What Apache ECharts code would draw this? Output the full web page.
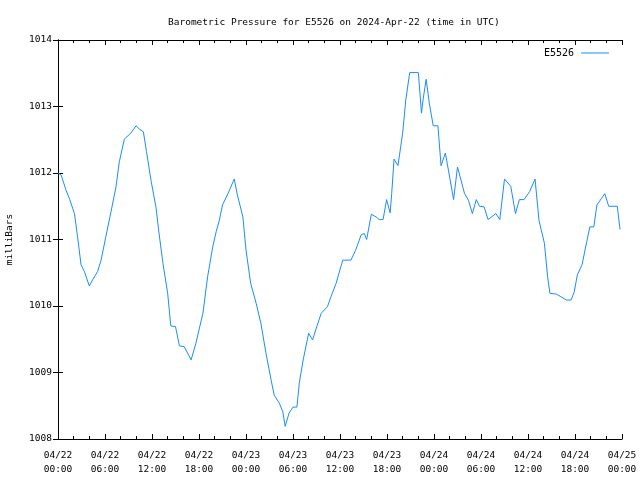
<!DOCTYPE html>
<html>
<head>
<meta charset="utf-8">
<script src="https://cdn.jsdelivr.net/npm/echarts@6/dist/echarts.min.js"></script>
<style>html,body{margin:0;padding:0;background:#fff}#c{width:640px;height:480px}</style>
</head>
<body>
<div id="c"></div>
<script>
// hours since 2024-04-22 00:00 UTC
var hours = [0, 0.4, 1.0, 1.5, 1.87, 2.1, 2.5, 2.94, 3.36, 4.0, 4.4, 5.06, 5.5, 6.1, 6.77, 7.4, 7.83, 8.47, 9.3, 9.96, 10.4, 10.9, 11.3, 11.9, 12.5, 12.9, 13.4, 14.0, 14.4, 15.0, 15.5, 16.1, 17.0, 17.6, 18.5, 19.1, 19.75, 20.2, 20.6, 21.0, 21.7, 22.5, 22.9, 23.6, 24.0, 24.6, 25.3, 25.9, 26.55, 27.2, 27.6, 28.25, 28.7, 29.0, 29.5, 30.0, 30.5, 30.8, 31.3, 32.0, 32.5, 32.9, 33.6, 34.4, 34.85, 35.5, 36.35, 37.4, 38.0, 38.7, 39.1, 39.4, 40.0, 40.6, 41.0, 41.5, 41.95, 42.4, 42.6, 42.9, 43.4, 44.0, 44.4, 44.9, 46.0, 46.4, 46.6, 47.0, 47.4, 47.9, 48.5, 48.9, 49.45, 49.95, 50.5, 51.0, 51.9, 52.4, 52.9, 53.4, 53.8, 54.4, 54.9, 55.9, 56.4, 57.0, 57.8, 58.4, 58.9, 59.5, 60.2, 60.9, 61.4, 62.1, 62.5, 62.8, 63.6, 64.2, 64.9, 65.5, 65.9, 66.3, 66.9, 67.5, 67.9, 68.4, 68.8, 69.4, 69.8, 70.3, 71.4, 71.75];
var pressure = [1012.0, 1011.97, 1011.75, 1011.6, 1011.47, 1011.39, 1011.04, 1010.62, 1010.52, 1010.30, 1010.39, 1010.52, 1010.69, 1011.04, 1011.42, 1011.79, 1012.17, 1012.51, 1012.60, 1012.71, 1012.66, 1012.62, 1012.32, 1011.87, 1011.49, 1011.09, 1010.64, 1010.19, 1009.70, 1009.69, 1009.40, 1009.39, 1009.19, 1009.44, 1009.89, 1010.44, 1010.89, 1011.12, 1011.29, 1011.52, 1011.69, 1011.91, 1011.67, 1011.34, 1010.84, 1010.34, 1010.04, 1009.74, 1009.29, 1008.89, 1008.66, 1008.54, 1008.41, 1008.19, 1008.39, 1008.48, 1008.48, 1008.84, 1009.19, 1009.59, 1009.49, 1009.64, 1009.89, 1009.99, 1010.14, 1010.34, 1010.69, 1010.69, 1010.84, 1011.07, 1011.09, 1011.0, 1011.38, 1011.34, 1011.30, 1011.30, 1011.60, 1011.40, 1011.69, 1012.21, 1012.11, 1012.60, 1013.10, 1013.51, 1013.51, 1012.90, 1013.10, 1013.41, 1013.05, 1012.71, 1012.71, 1012.11, 1012.30, 1011.97, 1011.60, 1012.09, 1011.69, 1011.59, 1011.39, 1011.60, 1011.50, 1011.49, 1011.30, 1011.39, 1011.30, 1011.91, 1011.80, 1011.39, 1011.60, 1011.60, 1011.72, 1011.91, 1011.29, 1010.94, 1010.44, 1010.19, 1010.18, 1010.14, 1010.09, 1010.09, 1010.21, 1010.47, 1010.62, 1010.97, 1011.19, 1011.19, 1011.52, 1011.62, 1011.69, 1011.50, 1011.50, 1011.15];
var dayLabels = ['04/22', '04/22', '04/22', '04/22', '04/23', '04/23', '04/23', '04/23', '04/24', '04/24', '04/24', '04/24', '04/25'];
var timeLabels = ['00:00', '06:00', '12:00', '18:00', '00:00', '06:00', '12:00', '18:00', '00:00', '06:00', '12:00', '18:00', '00:00'];
var yTicks = [1008, 1009, 1010, 1011, 1012, 1013, 1014];
var seriesName = 'E5526';
var titleText = 'Barometric Pressure for E5526 on 2024-Apr-22 (time in UTC)';
var yName = 'milliBars';

var FONT = 'DejaVu Sans Mono';
var pts = hours.map(function (h, i) { return [h, pressure[i]]; });
var chart = echarts.init(document.getElementById('c'), null, {renderer: 'canvas'});
var axisLine = {show: true, lineStyle: {color: '#000', width: 1}};
chart.setOption({
  animation: false,
  backgroundColor: '#fff',
  title: {
    text: titleText, left: 163, top: 13,
    textStyle: {fontFamily: FONT, fontSize: 9.5, fontWeight: 'normal', color: '#000'}
  },
  legend: {
    data: [seriesName], right: 26, top: 43, align: 'right', itemWidth: 28, itemHeight: 1,
    icon: 'path://M0,0L28,0L28,1L0,1Z',
    textStyle: {fontFamily: FONT, fontSize: 10, color: '#000', padding: [0, 2, 0, 0]}
  },
  grid: {left: 58, right: 18, top: 40, bottom: 41, containLabel: false, outerBoundsMode: 'none'},
  xAxis: [{
    type: 'value', min: 0, max: 72, interval: 6,
    axisLine: axisLine,
    axisTick: {show: true, inside: true, length: 5, lineStyle: {color: '#000'}},
    minorTick: {show: true, splitNumber: 3, length: 3, lineStyle: {color: '#000'}},
    splitLine: {show: false},
    axisLabel: {
      fontFamily: FONT, fontSize: 9.5, color: '#000', margin: 10, lineHeight: 14,
      formatter: function (v) { var i = Math.round(v / 6); return dayLabels[i] + '\n' + timeLabels[i]; }
    }
  }, {
    type: 'value', min: 0, max: 72, interval: 6, position: 'top',
    axisLine: axisLine,
    axisTick: {show: true, inside: true, length: 5, lineStyle: {color: '#000'}},
    minorTick: {show: true, splitNumber: 3, length: 3, lineStyle: {color: '#000'}},
    splitLine: {show: false}, axisLabel: {show: false}
  }],
  yAxis: [{
    type: 'value', min: yTicks[0], max: yTicks[yTicks.length - 1], interval: 1,
    name: yName, nameLocation: 'middle', nameGap: 43, nameRotate: 90,
    nameTextStyle: {fontFamily: FONT, fontSize: 9.5, color: '#000'},
    axisLine: axisLine,
    axisTick: {show: true, inside: true, length: 5, lineStyle: {color: '#000'}},
    splitLine: {show: false},
    axisLabel: {fontFamily: FONT, fontSize: 9.5, color: '#000', margin: 6,
      formatter: function (v) { return String(v); }}
  }, {
    type: 'value', min: yTicks[0], max: yTicks[yTicks.length - 1], interval: 1, position: 'right',
    axisLine: axisLine,
    axisTick: {show: true, inside: true, length: 5, lineStyle: {color: '#000'}},
    splitLine: {show: false}, axisLabel: {show: false}
  }],
  series: [{
    name: seriesName, type: 'line', data: pts, xAxisIndex: 0, yAxisIndex: 0,
    showSymbol: false, symbol: 'none',
    lineStyle: {color: '#1a8cff', width: 1},
    itemStyle: {color: '#1a8cff'}
  }]
});
</script>
</body>
</html>
